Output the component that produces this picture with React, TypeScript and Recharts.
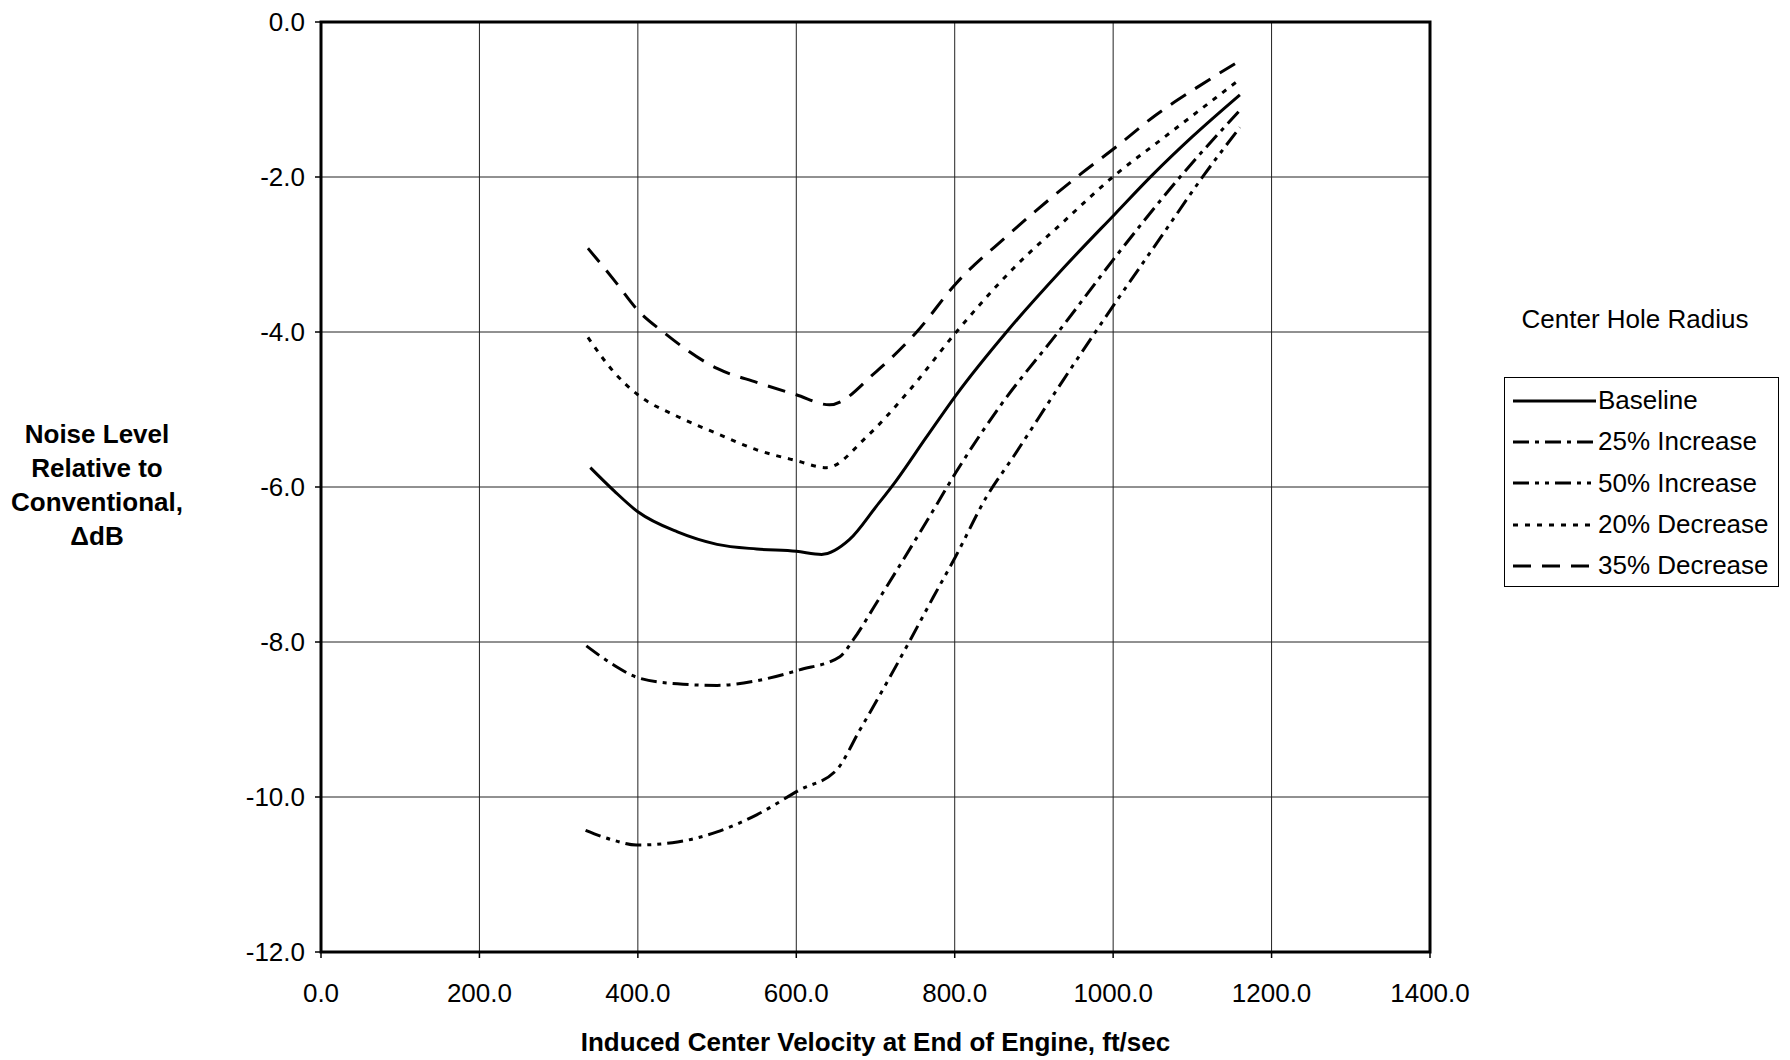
import React from 'react';
import {
  LineChart,
  Line,
  XAxis,
  YAxis,
  CartesianGrid,
  Legend,
  ReferenceArea
} from 'recharts';

const FONT = "Arial, 'Liberation Sans', Helvetica, sans-serif";

const xTicks = [0, 200, 400, 600, 800, 1000, 1200, 1400];
const yTicks = [-12, -10, -8, -6, -4, -2, 0];

// [velocity ft/sec, delta dB]
const baseline = [
  [340, -5.75], [370, -6.05], [400, -6.32], [450, -6.58], [500, -6.74], [550, -6.8],
  [600, -6.83], [632, -6.87], [667, -6.68], [701, -6.25], [726, -5.92], [764, -5.36],
  [802, -4.81], [867, -3.98], [935, -3.2], [1003, -2.47], [1050, -1.97], [1100, -1.48],
  [1160, -0.94]
];

const increase25 = [
  [335, -8.05], [370, -8.3], [400, -8.46], [450, -8.54], [500, -8.56], [550, -8.5],
  [604, -8.36], [655, -8.19], [672, -7.97], [701, -7.5], [735, -6.94], [773, -6.3],
  [801, -5.82], [857, -4.96], [933, -3.97], [1003, -3.03], [1087, -1.97], [1160, -1.14]
];

const increase50 = [
  [334, -10.43], [370, -10.56], [398, -10.62], [450, -10.58], [500, -10.45], [550, -10.23],
  [604, -9.91], [651, -9.65], [680, -9.14], [714, -8.53], [743, -7.99], [773, -7.42],
  [801, -6.9], [840, -6.13], [874, -5.61], [937, -4.62], [979, -3.98], [1003, -3.62],
  [1060, -2.78], [1115, -1.97], [1160, -1.36]
];

const decrease20 = [
  [337, -4.07], [370, -4.52], [400, -4.81], [450, -5.09], [500, -5.31], [550, -5.52],
  [600, -5.66], [638, -5.75], [689, -5.35], [743, -4.75], [802, -4.0], [874, -3.18],
  [937, -2.58], [1003, -1.97], [1059, -1.53], [1160, -0.74]
];

const decrease35 = [
  [337, -2.92], [370, -3.33], [400, -3.72], [432, -4.0], [500, -4.47], [550, -4.65],
  [600, -4.81], [642, -4.94], [701, -4.51], [752, -4.0], [802, -3.37], [865, -2.77],
  [958, -1.97], [1004, -1.61], [1054, -1.2], [1105, -0.85], [1155, -0.53]
];

const yTitleLines = ['Noise Level', 'Relative to', 'Conventional,', '\u0394dB'];

const toRows = (pts: number[][]) => pts.map(([v, db]) => ({ v, db }));

const series = [
  { name: 'Baseline', data: baseline, dash: undefined },
  { name: '25% Increase', data: increase25, dash: '16 6 4 6' },
  { name: '50% Increase', data: increase50, dash: '16 6 4 6 4 6' },
  { name: '20% Decrease', data: decrease20, dash: '5 7' },
  { name: '35% Decrease', data: decrease35, dash: '18 11' }
];

const YTitle = () => (
  <text textAnchor="middle" fontFamily={FONT} fontSize={26} fontWeight="bold" fill="#000">
    {yTitleLines.map((line, i) => (
      <tspan key={i} x={97} y={443 + i * 34}>{line}</tspan>
    ))}
  </text>
);

const XTitle = (props: any) => {
  const vb = props.viewBox || { x: 321, width: 1109 };
  return (
    <text
      x={vb.x + vb.width / 2}
      y={1051}
      textAnchor="middle"
      fontFamily={FONT}
      fontSize={26}
      fontWeight="bold"
      fill="#000"
    >
      Induced Center Velocity at End of Engine, ft/sec
    </text>
  );
};

const renderLegend = () => (
  <div style={{ position: 'relative', width: 310, height: 300, fontFamily: FONT, color: '#000' }}>
    <div style={{ position: 'absolute', left: 0, top: 14, width: 310, textAlign: 'center', fontSize: 26, lineHeight: '30px' }}>
      Center Hole Radius
    </div>
    <div
      style={{
        position: 'absolute',
        left: 24,
        top: 87,
        width: 273,
        height: 206,
        border: '1.5px solid #000',
        paddingTop: 2
      }}
    >
      {series.map((s) => (
        <div key={s.name} style={{ display: 'flex', alignItems: 'center', height: 41.3 }}>
          <svg width={93} height={10} style={{ flex: 'none' }}>
            <line x1={8} y1={5} x2={91} y2={5} stroke="#000" strokeWidth={3} strokeDasharray={s.dash} />
          </svg>
          <span style={{ fontSize: 26, whiteSpace: 'nowrap' }}>{s.name}</span>
        </div>
      ))}
    </div>
  </div>
);

const App: React.FC = () => {
  return (
    <div style={{ position: 'absolute', left: 0, top: 0, background: '#fff' }}>
      <LineChart width={1790} height={1060} margin={{ top: 22, right: 360, bottom: 48, left: 261 }}>
        <CartesianGrid stroke="#222" strokeWidth={1} />
        <XAxis
          dataKey="v"
          type="number"
          domain={[0, 1400]}
          ticks={xTicks}
          height={60}
          axisLine={false}
          tickSize={6}
          tickMargin={26}
          tickLine={{ stroke: '#000', strokeWidth: 1.5 }}
          tickFormatter={(t: number) => t.toFixed(1)}
          tick={{ fill: '#000', fontSize: 26, fontFamily: FONT }}
          label={<XTitle />}
          allowDataOverflow
        />
        <YAxis
          dataKey="db"
          type="number"
          domain={[-12, 0]}
          ticks={yTicks}
          width={60}
          axisLine={false}
          tickSize={6}
          tickMargin={10}
          tickLine={{ stroke: '#000', strokeWidth: 1.5 }}
          tickFormatter={(t: number) => t.toFixed(1)}
          tick={{ fill: '#000', fontSize: 26, fontFamily: FONT }}
          label={<YTitle />}
          allowDataOverflow
        />
        <ReferenceArea x1={0} x2={1400} y1={-12} y2={0} fill="none" fillOpacity={0} stroke="#000" strokeWidth={3} />
        {series.map((s) => (
          <Line
            key={s.name}
            name={s.name}
            data={toRows(s.data)}
            dataKey="db"
            type="monotone"
            stroke="#000"
            strokeWidth={3}
            strokeDasharray={s.dash}
            dot={false}
            activeDot={false}
            isAnimationActive={false}
          />
        ))}
        <Legend
          layout="horizontal"
          verticalAlign="middle"
          align="center"
          content={renderLegend}
          wrapperStyle={{ left: 1480, top: 290, width: 310 }}
        />
      </LineChart>
    </div>
  );
};

export default App;
